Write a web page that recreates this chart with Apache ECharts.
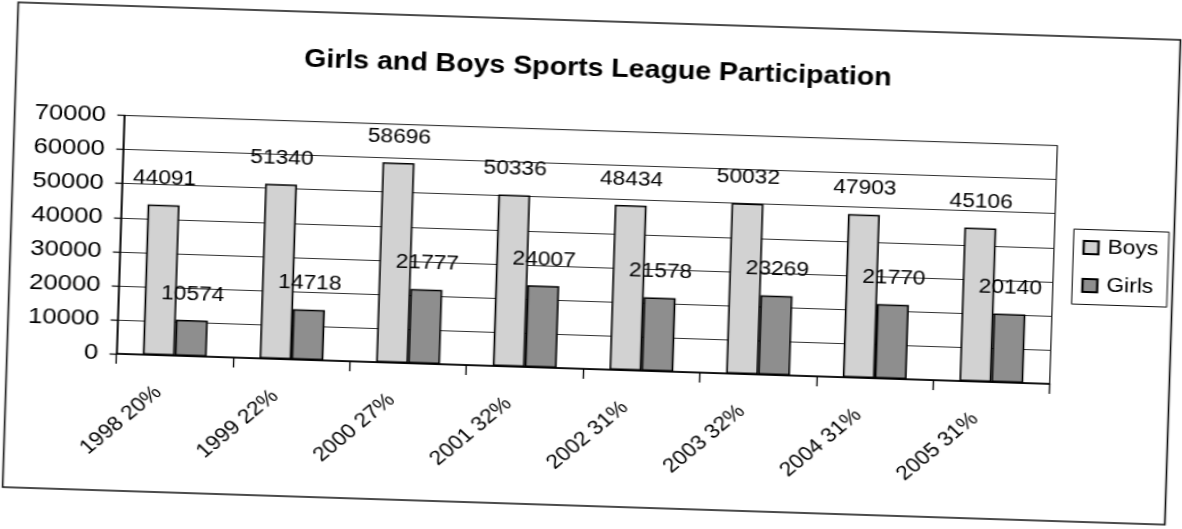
<!DOCTYPE html>
<html>
<head>
<meta charset="utf-8">
<script src="https://cdn.jsdelivr.net/npm/echarts@6/dist/echarts.min.js"></script>
<style>
  html, body { margin: 0; padding: 0; background: #fff; width: 1182px; height: 529px; overflow: hidden; }
  #chart {
    position: absolute; left: 72.5px; top: 0; width: 1037px; height: 529px;
    transform: rotate(1.85deg) scaleX(1.14); transform-origin: 50% 50%;
  }
</style>
</head>
<body>
<div id="chart"></div>
<script>
const categories = ["1998 20%", "1999 22%", "2000 27%", "2001 32%", "2002 31%", "2003 32%", "2004 31%", "2005 31%"];
const boys  = [44091, 51340, 58696, 50336, 48434, 50032, 47903, 45106];
const girls = [10574, 14718, 21777, 24007, 21578, 23269, 21770, 20140];
const seriesNames = ["Boys", "Girls"];
const titleText = "Girls and Boys Sports League Participation";
const yMin = 0, yMax = 70000, yStep = 10000;

const chart = echarts.init(document.getElementById('chart'), null, { renderer: 'canvas' });
const FONT = '"Liberation Sans", Arial, sans-serif';
const labelCfg = {
  show: true, position: 'top', distance: 16,
  fontSize: 20, fontFamily: FONT, color: '#000',
  formatter: p => String(p.value)
};
chart.setOption({
  backgroundColor: '#fff',
  animation: false,
  textStyle: { fontFamily: FONT, color: '#000' },
  graphic: [{
    type: 'rect', silent: true, z: -1,
    shape: { x: 8.5, y: 21, width: 1020, height: 485 },
    style: { fill: 'none', stroke: '#111', lineWidth: 1.5 }
  }],
  title: {
    text: titleText, left: 'center', top: 57, padding: 0,
    textStyle: { fontSize: 25, fontWeight: 'bold', fontFamily: FONT, color: '#000' }
  },
  legend: {
    orient: 'vertical', left: 940.5, top: 213.5,
    padding: [7, 9, 8, 8], itemGap: 16,
    itemWidth: 13, itemHeight: 13, icon: 'rect',
    borderColor: '#111', borderWidth: 1,
    textStyle: { fontSize: 20, fontFamily: FONT, color: '#000', lineHeight: 22, padding: [0, 0, 0, 3] },
    data: seriesNames
  },
  grid: {
    left: 104.5, right: 1037 - 923.5, top: 130.6, bottom: 529 - 369,
    show: true, borderColor: '#000', borderWidth: 1, backgroundColor: 'transparent',
    containLabel: false
  },
  xAxis: {
    type: 'category', data: categories,
    axisLine: { lineStyle: { color: '#000', width: 1.5 } },
    axisTick: { show: true, length: 10, lineStyle: { color: '#000', width: 1.2 } },
    axisLabel: { rotate: 45, margin: 21, padding: [0, 19, 0, 0], fontSize: 20, fontFamily: FONT, color: '#000', interval: 0 }
  },
  yAxis: {
    type: 'value', min: yMin, max: yMax, interval: yStep,
    axisLine: { show: true, lineStyle: { color: '#000', width: 1.5 } },
    axisTick: { show: true, length: 6, lineStyle: { color: '#000', width: 1.2 } },
    axisLabel: { margin: 16, fontSize: 22.5, fontFamily: FONT, color: '#000', formatter: v => String(v) },
    splitLine: { show: true, lineStyle: { color: '#333', width: 1 } }
  },
  series: [
    {
      name: seriesNames[0], type: 'bar', data: boys, barWidth: 28, barGap: '0%',
      itemStyle: { color: '#d2d2d2', borderColor: '#000', borderWidth: 1.5 },
      label: labelCfg
    },
    {
      name: seriesNames[1], type: 'bar', data: girls, barWidth: 28, barGap: '0%',
      itemStyle: { color: '#8e8e8e', borderColor: '#000', borderWidth: 1.5 },
      label: labelCfg
    }
  ]
});
</script>
</body>
</html>
